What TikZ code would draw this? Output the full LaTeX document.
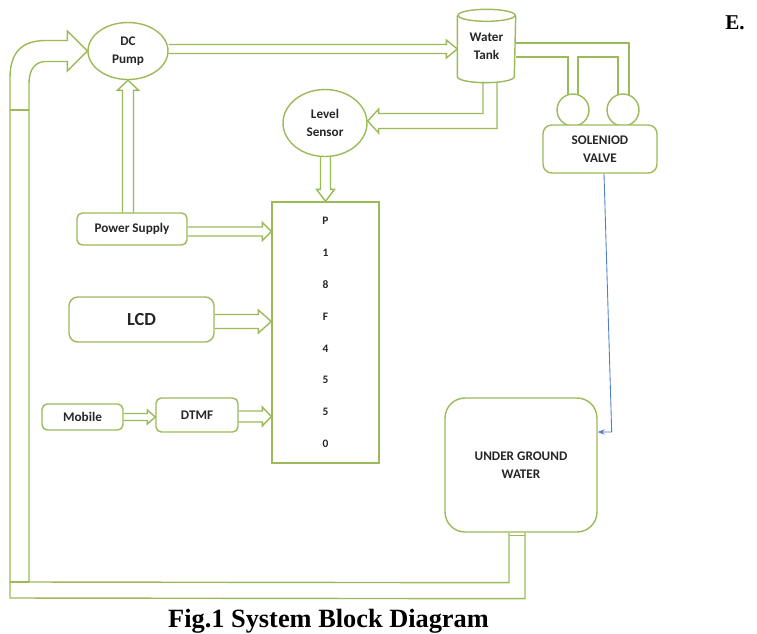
\documentclass[tikz,border=0pt]{standalone}
\usepackage{fontspec}
\setmainfont{Liberation Serif}
\setsansfont{Carlito}
\usepackage{tikz}
\usetikzlibrary{arrows.meta,shapes.geometric,positioning,calc,backgrounds}
\definecolor{cPipe}{HTML}{9BBB59}
\definecolor{cWire}{HTML}{4F7FC6}
\definecolor{cTxt}{HTML}{262626}
\tikzset{
  blk/.style={draw=cPipe,line width=0.8pt,fill=white,align=center,text=cTxt,
      font=\sffamily\bfseries\fontsize{7.5}{10}\selectfont,inner sep=1pt},
  rblk/.style={blk,rounded corners=3pt},
  oval/.style={blk,ellipse},
  circ/.style={draw=cPipe,line width=0.8pt,fill=white,circle,minimum size=0.64cm,inner sep=0pt},
  pipe/.style={draw=cPipe,line width=0.8pt,line join=miter},
  wire/.style={-{Stealth[length=4pt,width=3pt]},draw=cWire,line width=0.5pt},
}
% hollow block arrow to the right: from, tip, body half, head half, head length
\newcommand{\rpipe}[5]{%
  \draw[pipe] ($(#1 |- #2)+(0,-#3)$) -- ($(#2)+(-#5,-#3)$) -- ($(#2)+(-#5,-#4)$)
    -- (#2) -- ($(#2)+(-#5,#4)$) -- ($(#2)+(-#5,#3)$) -- ($(#1 |- #2)+(0,#3)$);}
% same, pointing down
\newcommand{\dpipe}[5]{%
  \draw[pipe] ($(#1 -| #2)+(-#3,0)$) -- ($(#2)+(-#3,-#5)$) -- ($(#2)+(-#4,-#5)$)
    -- (#2) -- ($(#2)+(#4,-#5)$) -- ($(#2)+(#3,-#5)$) -- ($(#1 -| #2)+(#3,0)$);}
% same, pointing up
\newcommand{\upipe}[5]{%
  \draw[pipe] ($(#1 -| #2)+(-#3,0)$) -- ($(#2)+(-#3,#5)$) -- ($(#2)+(-#4,#5)$)
    -- (#2) -- ($(#2)+(#4,#5)$) -- ($(#2)+(#3,#5)$) -- ($(#1 -| #2)+(#3,0)$);}
\begin{document}
\begin{tikzpicture}[x=0.02cm,y=-0.02cm]
  \useasboundingbox (0,0) rectangle (757,633);

  \node[oval,minimum width=1.6cm,minimum height=1.14cm] (pump) at (128,51) {DC\\Pump};
  \node[blk,draw=none,fill=none,minimum width=1.14cm,minimum height=1.44cm] (tank) at (486.5,46) {Water\\Tank};
  \draw[pipe] ($(tank.north west)+(0,6)$) -- ($(tank.south west)+(0,-6)$)
    arc[start angle=180,end angle=360,x radius=0.57cm,y radius=0.12cm]
    -- ($(tank.north east)+(0,6)$);
  \draw[pipe] ($(tank.north)+(0,6)$) ellipse[x radius=0.57cm,y radius=0.12cm];
  \node[oval,minimum width=1.68cm,minimum height=1.34cm] (lsens) at (325,123) {Level\\Sensor};
  \node[circ] (c1) at (573,110) {};
  \node[circ] (c2) at (623,110) {};
  \node[rblk,rounded corners=5pt,minimum width=2.28cm,minimum height=0.96cm] (valve) at (600,149) {SOLENIOD\\VALVE};
  \node[rblk,minimum width=2.2cm,minimum height=0.64cm] (ps) at (132,229) {Power Supply};
  \node[blk,minimum width=2.14cm,minimum height=5.22cm,
    font=\sffamily\bfseries\fontsize{6.5}{18.1}\selectfont] (mcu) at (325.5,332.5)
    {P\\1\\8\\F\\4\\5\\5\\0};
  \node[rblk,rounded corners=5pt,minimum width=2.9cm,minimum height=0.9cm,
    font=\sffamily\bfseries\fontsize{10.5}{12}\selectfont] (lcd) at (141.5,319.5) {LCD};
  \node[rblk,minimum width=1.62cm,minimum height=0.52cm] (mob) at (82.5,417) {Mobile};
  \node[rblk,minimum width=1.64cm,minimum height=0.68cm] (dtmf) at (197,415) {DTMF};
  \node[rblk,rounded corners=0.4cm,minimum width=3.04cm,minimum height=2.68cm] (ugw) at (521,465) {UNDER GROUND\\WATER};

  \coordinate (tankin) at ($(tank.west)+(0,3)$);
  \coordinate (lsin) at ($(lsens.east)+(0,-2)$);
  \coordinate (mps) at ($(mcu.west |- ps.east)+(0,2.5)$);
  \coordinate (mlcd) at ($(mcu.west |- lcd.east)+(0,2)$);
  \coordinate (mdtmf) at ($(mcu.west |- dtmf.east)+(0,1.5)$);
  \coordinate (dmob) at (dtmf.west |- mob.east);

  \begin{scope}[on background layer]
    % return pipe, well to pump
    \draw[pipe] ($(ugw.south)+(4,0)$) -- ($(ugw.south)+(4,66)$) -- (10,598) -- (10,78)
      .. controls (10,52) and (22,40.5) .. (46,40.5) -- ($(pump.west)+(-20,-10.5)$)
      -- ($(pump.west)+(-20,-20)$) -- (pump.west) -- ($(pump.west)+(-20,20)$)
      -- ($(pump.west)+(-20,10.5)$) -- (46,61.5) .. controls (36,61.5) and (29,68) .. (29,84)
      -- (29,582) -- ($(ugw.south)+(-12,50)$) -- ($(ugw.south)+(-12,0)$);
    \draw[pipe] (10,582) -- (29,582);
    \draw[pipe] (10,110) -- (29,110);
    \draw[pipe] ($(ugw.south)+(-12,3)$) -- ($(ugw.south)+(4,3)$);

    \rpipe{pump.east}{tankin}{4.5}{9}{11}

    % tank outlet to the valves
    \draw[pipe] ($(tank.east)+(0,-3)$) -| ($(c2)+(6,0)$);
    \draw[pipe] ($(tank.east)+(0,11)$) -| ($(c1)+(-5,0)$);
    \draw[pipe] ($(c1)+(5,0)$) |- ($(c2)+(-5,-53)$) -- ($(c2)+(-5,0)$);

    % tank to level sensor
    \draw[pipe] ($(tank.south)+(10.5,-1)$) |- ($(lsin)+(11,7.5)$) -- ($(lsin)+(11,12)$)
      -- (lsin) -- ($(lsin)+(11,-12)$) -- ($(lsin)+(11,-7.5)$) -| ($(tank.south)+(-3.5,-1)$);

    \dpipe{lsens.south}{mcu.north}{5}{9}{12}
    \upipe{ps.north}{pump.south}{5.5}{10.5}{10}

    \rpipe{ps.east}{mps}{4.5}{9}{9}
    \rpipe{lcd.east}{mlcd}{7}{11.5}{13}
    \rpipe{dtmf.east}{mdtmf}{5.5}{9.5}{9}
    \rpipe{mob.east}{dmob}{3.5}{7}{8}
  \end{scope}

  \draw[wire] ($(valve.south)+(4,0)$) -- ($(ugw.east)+(14,-33)$) -- ($(ugw.east)+(0,-33)$);

  \node[font=\bfseries\fontsize{15}{18}\selectfont,anchor=base] (cap) at (328.5,627) {Fig.1 System Block Diagram};
  \node[font=\bfseries\fontsize{12}{14}\selectfont,anchor=base] (sec) at (735,29) {E.};
\end{tikzpicture}
\end{document}
